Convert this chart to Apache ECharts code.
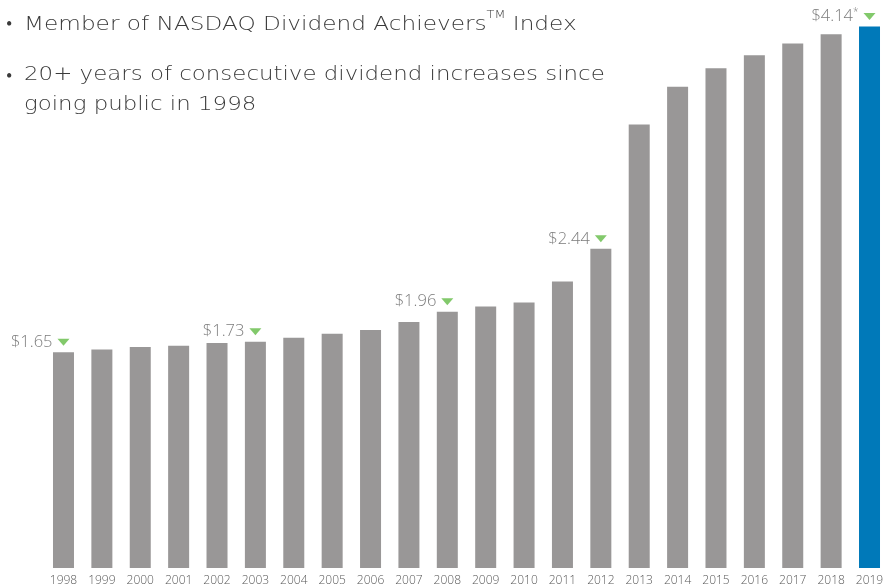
<!DOCTYPE html>
<html><head><meta charset="utf-8">
<script src="https://cdn.jsdelivr.net/npm/echarts@6/dist/echarts.min.js"></script>
<style>html,body{margin:0;padding:0;background:#fff}#c{width:883px;height:586px}</style>
</head><body><div id="c"></div>
<script>
const years = ['1998','1999','2000','2001','2002','2003','2004','2005','2006','2007','2008','2009','2010','2011','2012','2013','2014','2015','2016','2017','2018','2019'];
const dividends = [1.65,1.67,1.69,1.70,1.72,1.73,1.76,1.79,1.82,1.88,1.96,2.00,2.03,2.19,2.44,3.39,3.68,3.82,3.92,4.01,4.08,4.14];
const labeledYears = ['1998','2003','2008','2012','2019'];
const labelTexts = ['$1.65','$1.73','$1.96','$2.44','$4.14'];
const labelNotes = ['','','','','*'];
const highlightYear = '2019';
const bullet1 = 'Member of NASDAQ Dividend Achievers';
const bullet1Sup = 'TM';
const bullet1End = ' Index';
const bullet2 = ['20+ years of consecutive dividend increases since', 'going public in 1998'];

const chart = echarts.init(document.getElementById('c'));
const GRAY = '#999797', BLUE = '#0079b9', GREEN = '#63bb46', TXT = '#5a5a5a', HEAD = '#3a3a3a';
const FONT = 'Open Sans';
const HFONT = 'DejaVu Sans';

const barData = years.map((y, i) => ({
  value: dividends[i],
  itemStyle: { color: y === highlightYear ? BLUE : GRAY }
}));
const markData = labeledYears.map((y, i) => ({
  value: [y, dividends[years.indexOf(y)]],
  txt: labelTexts[i], note: labelNotes[i]
}));

chart.setOption({
  animation: false,
  grid: { left: 44.3, width: 844.4, top: 568 - 4.2 * 130.8, height: 4.2 * 130.8, containLabel: false, outerBoundsMode: 'none' },
  xAxis: {
    type: 'category', data: years,
    axisLine: { show: false }, axisTick: { show: false },
    axisLabel: { color: TXT, fontFamily: FONT, fontWeight: 300, fontSize: 12, margin: 7, interval: 0 }
  },
  yAxis: { type: 'value', min: 0, max: 4.2, show: false, splitLine: { show: false } },
  series: [
    { type: 'bar', data: barData, barWidth: 21, silent: true },
    {
      type: 'scatter', data: markData, z: 5, silent: true,
      symbol: 'path://M0,0 L12,0 L6,7 Z', symbolSize: [12, 7], symbolOffset: [0, -10],
      itemStyle: { color: GREEN },
      label: {
        show: true, position: 'left', distance: 5,
        formatter: p => '{v|' + p.data.txt + '}' + (p.data.note ? '{s|' + p.data.note + '}' : ''),
        rich: {
          v: { color: TXT, fontFamily: FONT, fontWeight: 300, fontSize: 16.5 },
          s: { color: TXT, fontFamily: FONT, fontWeight: 300, fontSize: 10, verticalAlign: 'top', padding: [0, 0, 8, 0] }
        }
      }
    }
  ],
  graphic: [
    { type: 'text', left: 6, top: 10, style: { text: '•', fill: HEAD, font: '200 18px "DejaVu Sans"', lineHeight: 30 } },
    { type: 'text', left: 24, top: 10, scaleX: 1.16, style: {
        text: '{m|' + bullet1 + '}{t|' + bullet1Sup + '}{m|' + bullet1End + '}',
        rich: { m: { fill: HEAD, fontFamily: HFONT, fontWeight: 200, fontSize: 20, lineHeight: 30 }, t: { fill: HEAD, fontFamily: HFONT, fontWeight: 200, fontSize: 11, verticalAlign: 'top', padding: [0,0,12,0] } }
    } },
    { type: 'text', left: 6, top: 62, style: { text: '•', fill: HEAD, font: '200 18px "DejaVu Sans"', lineHeight: 30 } },
    { type: 'text', left: 24, top: 60, scaleX: 1.145, style: { text: bullet2.join('\n'), fill: HEAD, font: '200 20px "DejaVu Sans"', lineHeight: 30 } }
  ]
});
</script></body></html>
